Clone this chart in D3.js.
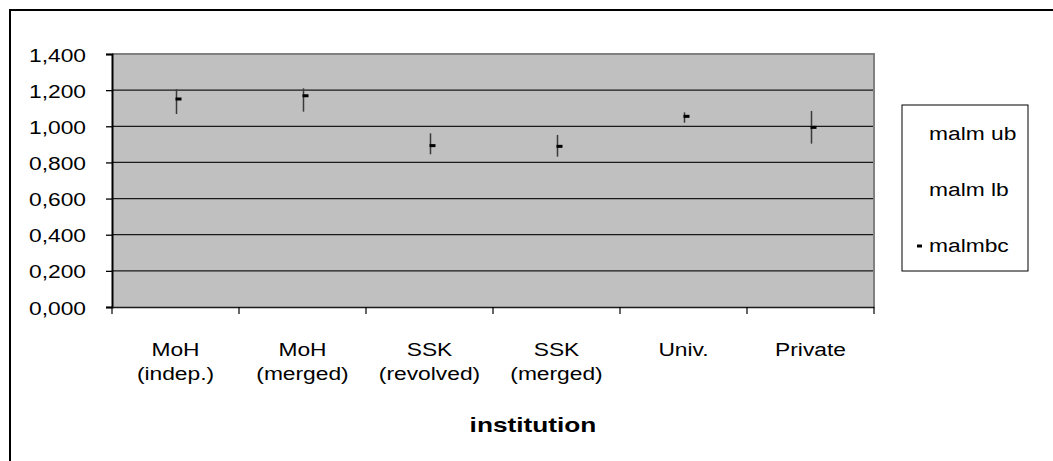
<!DOCTYPE html>
<html>
<head>
<meta charset="utf-8">
<script src="https://cdn.jsdelivr.net/npm/d3@7"></script>
<style>
  html, body { margin: 0; padding: 0; background: #fff; }
  svg { display: block; }
  text { font-family: "Liberation Sans", Arial, sans-serif; fill: #000; }
</style>
</head>
<body>
<svg id="chart" width="1053" height="461"></svg>
<script>
// ---- data ----
const categories = ["MoH (indep.)", "MoH (merged)", "SSK (revolved)", "SSK (merged)", "Univ.", "Private"];
const categoryLines = [["MoH", "(indep.)"], ["MoH", "(merged)"], ["SSK", "(revolved)"], ["SSK", "(merged)"], ["Univ."], ["Private"]];
const malmUb = [1.205, 1.210, 0.961, 0.952, 1.077, 1.085];
const malmLb = [1.068, 1.081, 0.845, 0.832, 1.020, 0.904];
const malmbc = [1.151, 1.169, 0.893, 0.889, 1.055, 0.994];
const yTicks = [0, 0.2, 0.4, 0.6, 0.8, 1.0, 1.2, 1.4];
const legendLabels = ["malm ub", "malm lb", "malmbc"];
const xTitle = "institution";

// ---- layout ----
const svg = d3.select("#chart");
const plot = { left: 112, right: 874, top: 54, bottom: 307 };
const SX = 1.2; // horizontal stretch of text as in reference
const FS = "19px";

const x = d3.scaleBand().domain(categories).range([plot.left, plot.right]).padding(0);
const y = d3.scaleLinear().domain([0, 1.4]).range([plot.bottom, plot.top]);
const fmt = v => d3.format(".3f")(v).replace(".", ",");

// outer frame
svg.append("rect").attr("x", 10).attr("y", 10).attr("width", 1060).attr("height", 470)
  .attr("fill", "none").attr("stroke", "#000").attr("stroke-width", 2);

// plot background
svg.append("rect").attr("x", plot.left).attr("y", plot.top)
  .attr("width", plot.right - plot.left).attr("height", plot.bottom - plot.top)
  .attr("fill", "#c0c0c0");

// gridlines
svg.append("g").selectAll("line").data(yTicks.filter(d => d > 0 && d < 1.4)).join("line")
  .attr("x1", plot.left).attr("x2", plot.right)
  .attr("y1", d => y(d)).attr("y2", d => y(d))
  .attr("stroke", "#1a1a1a").attr("stroke-width", 1.3);

// gray top and right border
svg.append("path")
  .attr("d", `M${plot.left},${plot.top}H${plot.right}V${plot.bottom}`)
  .attr("fill", "none").attr("stroke", "#808080").attr("stroke-width", 2);

// y axis
const yAxis = d3.axisLeft(y).tickValues(yTicks).tickSize(6).tickFormat(fmt);
const gy = svg.append("g").attr("transform", `translate(${plot.left},0)`).call(yAxis);
gy.select(".domain").attr("stroke", "#000").attr("stroke-width", 2);
gy.selectAll(".tick line").attr("stroke", "#000").attr("stroke-width", 1.3);
gy.selectAll(".tick text").remove();
gy.selectAll(".tick").append("text")
  .attr("text-anchor", "end")
  .attr("transform", `translate(-26,7) scale(${SX},1)`)
  .style("font-size", FS)
  .text(d => fmt(d));

// x axis
const xAxis = d3.axisBottom(x).tickSize(0).tickFormat("");
const gx = svg.append("g").attr("transform", `translate(0,${plot.bottom})`).call(xAxis);
gx.select(".domain").attr("stroke", "#1a1a1a").attr("stroke-width", 1.5);
// boundary ticks
const bounds = categories.map(c => x(c)).concat([plot.right]);
gx.append("g").selectAll("line").data(bounds).join("line")
  .attr("x1", d => d).attr("x2", d => d).attr("y1", 0).attr("y2", 7)
  .attr("stroke", "#000").attr("stroke-width", 1.2);
// category labels
categories.forEach((c, i) => {
  const cx = x(c) + x.bandwidth() / 2;
  categoryLines[i].forEach((line, j) => {
    svg.append("text")
      .attr("text-anchor", "middle")
      .attr("transform", `translate(${cx},${356 + j * 24}) scale(${SX},1)`)
      .style("font-size", FS)
      .text(line);
  });
});

// x title
svg.append("text")
  .attr("text-anchor", "middle")
  .attr("transform", `translate(533,432) scale(1.25,1)`)
  .style("font-size", "21px").style("font-weight", "bold")
  .text(xTitle);

// error bars
const marks = svg.append("g");
categories.forEach((c, i) => {
  const cx = Math.round(x(c) + x.bandwidth() / 2) + 0.5;
  marks.append("line")
    .attr("x1", cx).attr("x2", cx)
    .attr("y1", y(malmUb[i])).attr("y2", y(malmLb[i]))
    .attr("stroke", "#3a3a3a").attr("stroke-width", 1.5);
  marks.append("rect")
    .attr("x", cx - 1).attr("y", y(malmbc[i]) - 1.5)
    .attr("width", 6).attr("height", 3)
    .attr("fill", "#000");
});

// legend
const lg = svg.append("g");
lg.append("rect").attr("x", 902).attr("y", 105).attr("width", 126).attr("height", 166)
  .attr("fill", "#fff").attr("stroke", "#000").attr("stroke-width", 1);
const legendY = [140, 196, 252];
legendLabels.forEach((t, i) => {
  lg.append("text")
    .attr("transform", `translate(929,${legendY[i]}) scale(${SX},1)`)
    .style("font-size", FS)
    .text(t);
});
lg.append("rect").attr("x", 917).attr("y", 244.5).attr("width", 5).attr("height", 3).attr("fill", "#000");
</script>
</body>
</html>
